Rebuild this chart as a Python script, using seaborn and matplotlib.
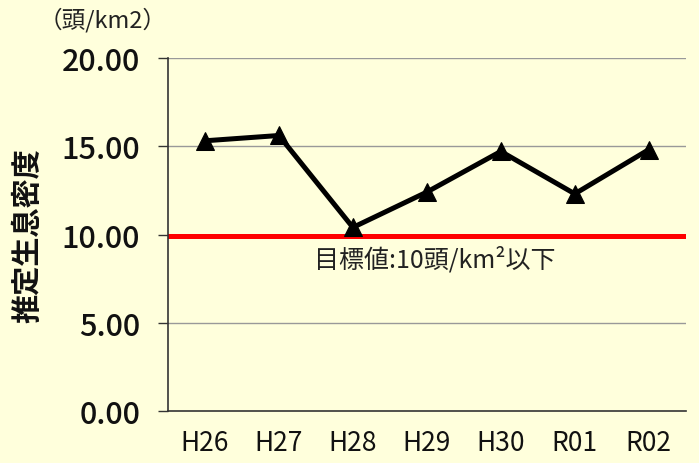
import seaborn as sns
import matplotlib.pyplot as plt
import pandas as pd

sns.set_style('white')
plt.rcParams['font.family'] = ['Noto Sans CJK JP', 'DejaVu Sans']

years = ['H26', 'H27', 'H28', 'H29', 'H30', 'R01', 'R02']
density = [15.3, 15.6, 10.4, 12.4, 14.7, 12.3, 14.8]
target = 9.9
yticks = [0, 5, 10, 15, 20]

df = pd.DataFrame({'year': years, 'density': density})
bg = '#FFFFDC'

fig = plt.figure(figsize=(6.99, 4.64), dpi=100, facecolor=bg)
ax = fig.add_axes([0.2403, 0.1114, 0.7407, 0.7621])
ax.set_facecolor(bg)

for v in yticks[1:]:
    ax.axhline(v, color='#999999', lw=1, zorder=0)
ax.axhline(target, color='#FF0000', lw=3.6, zorder=1)

sns.lineplot(data=df, x='year', y='density', sort=False, color='black', lw=3.6,
             marker='^', markersize=13, markeredgecolor='black', ax=ax, zorder=3)

ax.set_xlim(-0.5, 6.5)
ax.set_ylim(0, 20)
ax.set_yticks(yticks)
ax.set_yticklabels([f'{v:.2f}' for v in yticks], fontsize=22, color='#111111', fontweight='medium')
ax.tick_params(axis='y', direction='out', length=7, width=1, color='#333333', pad=13, left=True)
ax.tick_params(axis='x', length=0, pad=13, labelsize=19, labelcolor='#111111')
ax.set_xlabel('')
ax.set_ylabel('推定生息密度', fontsize=21, fontweight='bold', labelpad=14, color='#111111')
for s in ['top', 'right']:
    ax.spines[s].set_visible(False)
for s in ['left', 'bottom']:
    ax.spines[s].set_color('#333333')
    ax.spines[s].set_linewidth(1.2)

fig.text(0.055, 0.957, '（頭/km2）', fontsize=17, color='#222222', va='center')
ax.text(1.47, 8.6, '目標値:10頭/km²以下', fontsize=18, color='#222222', va='center')

fig.savefig('out.png', dpi=100, facecolor=bg)
